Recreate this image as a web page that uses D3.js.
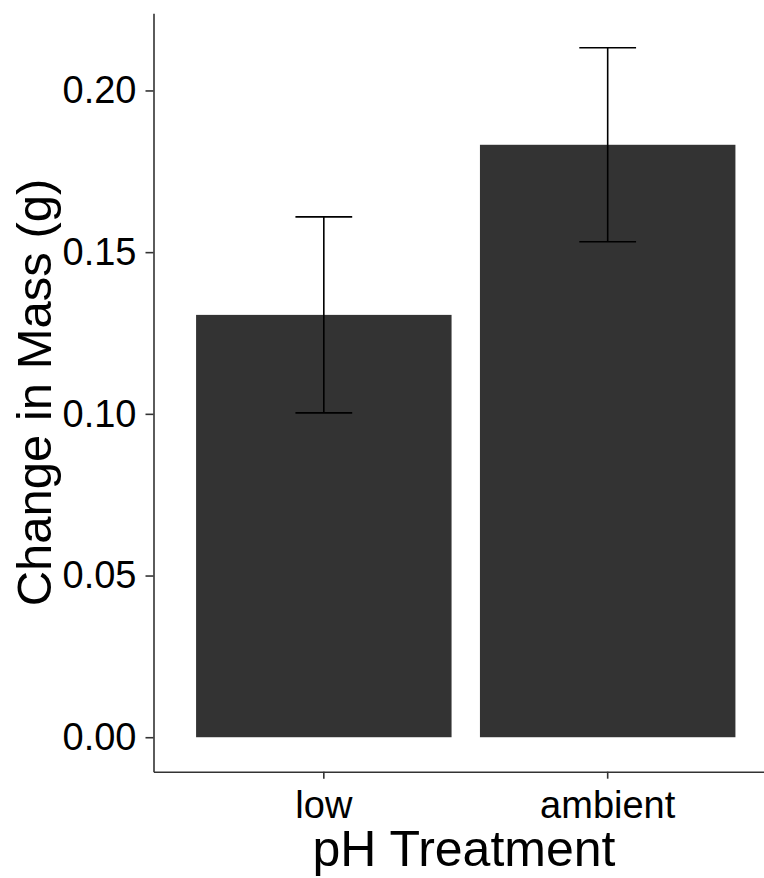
<!DOCTYPE html>
<html lang="en">
<head>
    <meta charset="UTF-8">
    <title>Change in Mass by pH Treatment</title>
    <script src="https://d3js.org/d3.v7.min.js"></script>
    <style>
        body { margin: 0; background: #fff; }
        * { font-family: "Liberation Sans", Arial, sans-serif; }
    </style>
</head>
<body>
    <svg width="764" height="878"></svg>
    <script>
        // data
        const treatments = ["low", "ambient"];
        const meanChange = [0.1306, 0.1832];
        const seChange = [0.0303, 0.0300];
        const yTicks = [0, 0.05, 0.10, 0.15, 0.20];

        const svg = d3.select("svg");
        const panel = { left: 153.5, right: 778, top: 13.3, bottom: 771.7 };

        const rows = treatments.map((t, i) => ({
            t, mean: meanChange[i], lo: meanChange[i] - seChange[i], hi: meanChange[i] + seChange[i]
        }));

        // ggplot-like expansion: 5% of the data range
        const yMax = d3.max(rows, d => d.hi);
        const pad = yMax * 0.05;
        const y = d3.scaleLinear().domain([-pad, yMax + pad]).range([panel.bottom, panel.top]);

        const x = d3.scaleBand()
            .domain(treatments)
            .range([panel.left, panel.right])
            .paddingInner(0.1)
            .paddingOuter(0.15);

        // bars
        svg.append("g").selectAll("rect")
            .data(rows)
            .join("rect")
            .attr("x", d => x(d.t))
            .attr("width", x.bandwidth())
            .attr("y", d => y(d.mean))
            .attr("height", d => y(0) - y(d.mean))
            .attr("fill", "#333333");

        // error bars
        const capW = x.step() * 0.2;
        const eb = svg.append("g").attr("stroke", "#000").attr("stroke-width", 1.6).attr("fill", "none");
        rows.forEach(d => {
            const cx = x(d.t) + x.bandwidth() / 2;
            eb.append("line").attr("x1", cx).attr("x2", cx).attr("y1", y(d.hi)).attr("y2", y(d.lo));
            eb.append("line").attr("x1", cx - capW / 2).attr("x2", cx + capW / 2).attr("y1", y(d.hi)).attr("y2", y(d.hi));
            eb.append("line").attr("x1", cx - capW / 2).attr("x2", cx + capW / 2).attr("y1", y(d.lo)).attr("y2", y(d.lo));
        });

        // axes
        const yAxis = svg.append("g")
            .attr("transform", `translate(${panel.left},0)`)
            .call(d3.axisLeft(y).tickValues(yTicks).tickFormat(d3.format(".2f")).tickSize(8).tickSizeOuter(0).tickPadding(9));

        const xAxis = svg.append("g")
            .attr("transform", `translate(0,${panel.bottom})`)
            .call(d3.axisBottom(x).tickSize(7).tickSizeOuter(0).tickPadding(12));

        [yAxis, xAxis].forEach(a => {
            a.select(".domain").attr("stroke", "#333").attr("stroke-width", 1.6);
            a.selectAll(".tick line").attr("stroke", "#333").attr("stroke-width", 1.6);
            a.selectAll(".tick text").attr("fill", "#000").attr("font-size", "38px")
                .attr("font-family", "Liberation Sans, Arial, sans-serif");
        });

        // axis titles
        svg.append("text")
            .attr("x", 464)
            .attr("y", 866)
            .attr("text-anchor", "middle")
            .attr("font-size", "50px")
            .attr("fill", "#000")
            .text("pH Treatment");

        svg.append("text")
            .attr("transform", `translate(51,${(panel.top + panel.bottom) / 2}) rotate(-90)`)
            .attr("text-anchor", "middle")
            .attr("font-size", "49px")
            .attr("fill", "#000")
            .text("Change in Mass (g)");
    </script>
</body>
</html>
